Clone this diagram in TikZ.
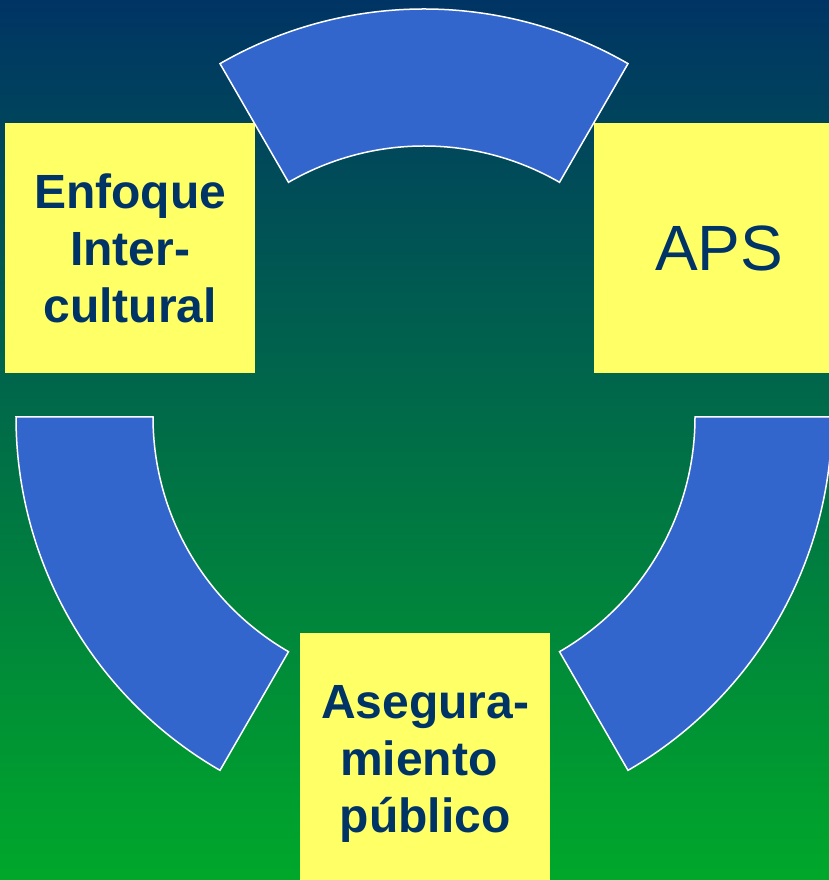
\documentclass[tikz,border=0pt]{standalone}
\usepackage{fontspec}
\setmainfont{Liberation Sans}
\usetikzlibrary{calc}
\definecolor{bgtop}{RGB}{0,52,100}
\definecolor{bgmid}{RGB}{0,122,76}
\definecolor{bgbot}{RGB}{0,168,42}
\definecolor{arcblue}{RGB}{51,102,204}
\definecolor{boxyellow}{RGB}{255,255,102}
\definecolor{txt}{RGB}{0,51,102}
\tikzset{
  segment/.style={fill=arcblue, draw=white, line width=1.5pt, line join=miter},
  ybox/.style={fill=boxyellow, draw=none, minimum width=250pt, minimum height=250pt, inner sep=0pt, anchor=north west, align=center, text=txt},
  boldtxt/.style={font=\fontsize{48}{57}\selectfont\bfseries},
  bigtxt/.style={font=\fontsize{64}{70}\selectfont}
}
\begin{document}
\begin{tikzpicture}[x=1pt,y=1pt]
\useasboundingbox (0,0) rectangle (829,880);
\clip (0,0) rectangle (829,880);
\shade[top color=bgtop, middle color=bgmid, bottom color=bgbot] (0,0) rectangle (829,880);
\coordinate (c) at (424,463);
% yellow boxes
\node[ybox, boldtxt] (left) at (5,757) {Enfoque\\Inter-\\cultural};
\node[ybox, bigtxt] (right) at (594,757) {APS};
\node[ybox, boldtxt, minimum height=262pt] (bottom) at (300,247) {Asegura-\\miento\rule{13pt}{0pt}\\p\'ublico};
% ring segments
\draw[segment] ($(c)+(60:408)$) arc[start angle=60, end angle=120, radius=408pt]
  -- ($(c)+(120:271)$) arc[start angle=120, end angle=60, radius=271pt] -- cycle;
\draw[segment] ($(c)+(180:408)$) arc[start angle=180, end angle=240, radius=408pt]
  -- ($(c)+(240:271)$) arc[start angle=240, end angle=180, radius=271pt] -- cycle;
\draw[segment] ($(c)+(300:408)$) arc[start angle=300, end angle=360, radius=408pt]
  -- ($(c)+(360:271)$) arc[start angle=360, end angle=300, radius=271pt] -- cycle;
\end{tikzpicture}
\end{document}
